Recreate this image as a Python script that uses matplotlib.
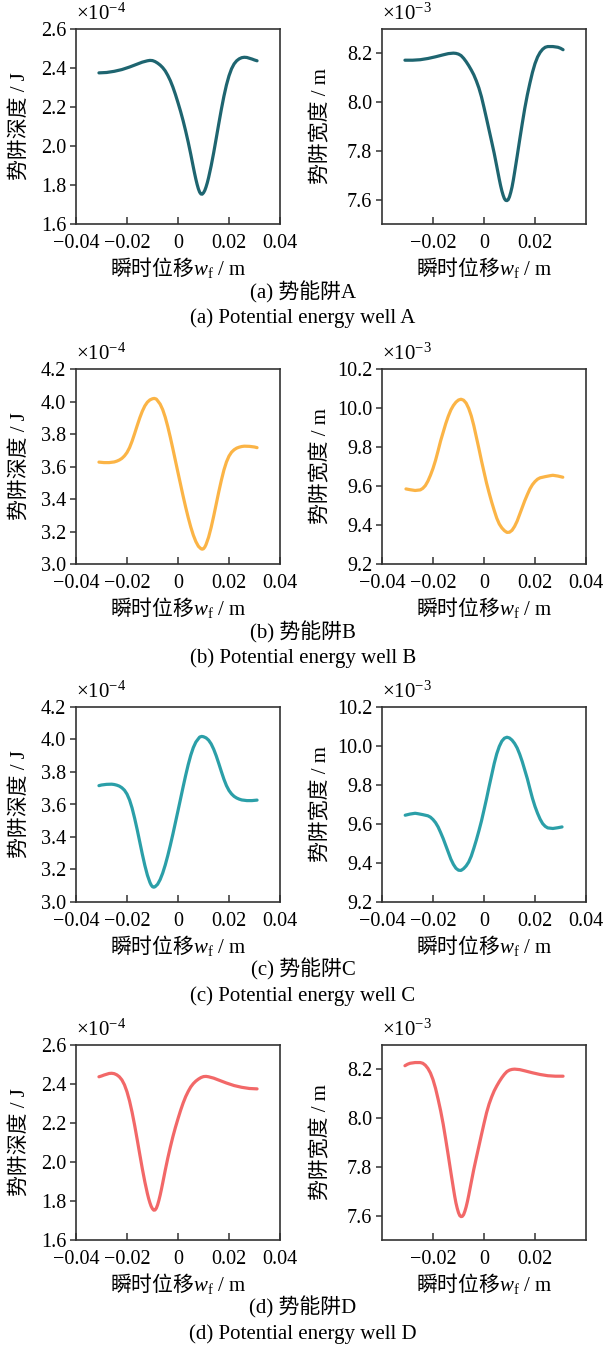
import matplotlib
matplotlib.use("Agg")
import matplotlib.pyplot as plt
from matplotlib.ticker import FuncFormatter

plt.rcParams["font.family"] = ["Liberation Serif", "Noto Sans CJK SC"]
plt.rcParams["mathtext.fontset"] = "custom"
plt.rcParams["mathtext.rm"] = "Liberation Serif"
plt.rcParams["mathtext.it"] = "Liberation Serif:italic"
plt.rcParams["mathtext.bf"] = "Liberation Serif:bold"
plt.rcParams["mathtext.sf"] = "Noto Sans CJK SC"
plt.rcParams["font.size"] = 14
plt.rcParams["axes.unicode_minus"] = True

# =========================
# DATA (depth in 1e-4 J, width in 1e-3 m, displacement w_f in m)
# =========================
# well A
a_depth_x = [-0.031, -0.028, -0.025, -0.022, -0.019, -0.016, -0.014, -0.012, -0.011, -0.010,
             -0.009, -0.008, -0.007, -0.006, -0.005, -0.004, -0.003, -0.002, -0.001, 0.000,
             0.001, 0.002, 0.003, 0.004, 0.005, 0.0055, 0.006, 0.0065, 0.007, 0.0075,
             0.008, 0.0085, 0.009, 0.0095, 0.010, 0.0105, 0.011, 0.0115, 0.012, 0.013,
             0.014, 0.015, 0.016, 0.017, 0.018, 0.019, 0.020, 0.021, 0.022, 0.023,
             0.024, 0.025, 0.026, 0.027, 0.028, 0.029, 0.030, 0.031]
a_depth_y = [2.375, 2.377, 2.383, 2.392, 2.405, 2.420, 2.430, 2.437, 2.439, 2.438,
             2.433, 2.425, 2.415, 2.402, 2.385, 2.362, 2.335, 2.302, 2.264, 2.222,
             2.178, 2.130, 2.077, 2.020, 1.958, 1.925, 1.892, 1.860, 1.830, 1.803,
             1.780, 1.763, 1.754, 1.753, 1.760, 1.772, 1.790, 1.812, 1.838, 1.898,
             1.966, 2.040, 2.115, 2.188, 2.255, 2.313, 2.360, 2.396, 2.421, 2.437,
             2.447, 2.453, 2.455, 2.454, 2.450, 2.446, 2.441, 2.437]
a_width_x = [-0.031, -0.028, -0.025, -0.022, -0.019, -0.016, -0.014, -0.012, -0.011, -0.010,
             -0.009, -0.008, -0.007, -0.006, -0.005, -0.004, -0.003, -0.002, -0.001, 0.000,
             0.001, 0.002, 0.003, 0.004, 0.005, 0.006, 0.0065, 0.007, 0.0075, 0.008,
             0.0085, 0.009, 0.0095, 0.010, 0.0105, 0.011, 0.0115, 0.012, 0.013, 0.014,
             0.015, 0.016, 0.017, 0.018, 0.019, 0.020, 0.021, 0.022, 0.023, 0.024,
             0.025, 0.027, 0.029, 0.030, 0.031]
a_width_y = [8.172, 8.172, 8.174, 8.179, 8.186, 8.194, 8.199, 8.201, 8.200, 8.197,
             8.191, 8.180, 8.166, 8.150, 8.132, 8.112, 8.087, 8.058, 8.022, 7.978,
             7.932, 7.885, 7.838, 7.790, 7.737, 7.683, 7.658, 7.636, 7.618, 7.604,
             7.597, 7.596, 7.600, 7.612, 7.630, 7.652, 7.680, 7.712, 7.778, 7.846,
             7.912, 7.975, 8.030, 8.078, 8.122, 8.158, 8.185, 8.204, 8.217, 8.225,
             8.228, 8.228, 8.225, 8.221, 8.215]

# well B
b_depth_x = [-0.031, -0.029, -0.027, -0.025, -0.024, -0.023, -0.022, -0.021, -0.020, -0.019,
             -0.018, -0.017, -0.016, -0.015, -0.014, -0.013, -0.012, -0.011, -0.010, -0.0093,
             -0.0085, -0.008, -0.007, -0.006, -0.005, -0.004, -0.003, -0.002, -0.001, 0.000,
             0.001, 0.002, 0.003, 0.004, 0.005, 0.006, 0.007, 0.008, 0.009, 0.0095,
             0.010, 0.0105, 0.011, 0.012, 0.013, 0.014, 0.015, 0.016, 0.017, 0.018,
             0.019, 0.020, 0.021, 0.022, 0.023, 0.024, 0.025, 0.026, 0.028, 0.030,
             0.031]
b_depth_y = [3.627, 3.624, 3.624, 3.628, 3.633, 3.640, 3.650, 3.665, 3.686, 3.716,
             3.756, 3.803, 3.852, 3.899, 3.940, 3.973, 3.996, 4.010, 4.017, 4.019,
             4.015, 4.005, 3.984, 3.950, 3.903, 3.845, 3.779, 3.708, 3.635, 3.562,
             3.490, 3.418, 3.350, 3.286, 3.228, 3.178, 3.138, 3.109, 3.094, 3.091,
             3.094, 3.104, 3.120, 3.165, 3.225, 3.295, 3.370, 3.445, 3.515, 3.578,
             3.628, 3.664, 3.688, 3.703, 3.713, 3.719, 3.723, 3.725, 3.724, 3.720,
             3.716]
b_width_x = [-0.0306, -0.029, -0.027, -0.025, -0.024, -0.023, -0.022, -0.021, -0.020, -0.019,
             -0.018, -0.017, -0.016, -0.015, -0.014, -0.013, -0.012, -0.011, -0.010, -0.009,
             -0.008, -0.007, -0.006, -0.005, -0.004, -0.003, -0.002, -0.001, 0.000, 0.001,
             0.002, 0.003, 0.004, 0.005, 0.006, 0.007, 0.008, 0.009, 0.010, 0.011,
             0.012, 0.013, 0.014, 0.015, 0.016, 0.017, 0.018, 0.019, 0.020, 0.021,
             0.022, 0.024, 0.026, 0.027, 0.029, 0.0309]
b_width_y = [9.585, 9.581, 9.577, 9.580, 9.588, 9.602, 9.625, 9.655, 9.690, 9.732,
             9.781, 9.832, 9.876, 9.920, 9.958, 9.990, 10.013, 10.030, 10.041, 10.045,
             10.040, 10.025, 9.998, 9.960, 9.910, 9.851, 9.792, 9.730, 9.672, 9.615,
             9.565, 9.518, 9.475, 9.435, 9.405, 9.385, 9.371, 9.362, 9.363, 9.373,
             9.393, 9.420, 9.455, 9.490, 9.525, 9.556, 9.585, 9.607, 9.623, 9.635,
             9.642, 9.648, 9.653, 9.655, 9.651, 9.645]

# well C
c_depth_x = [-0.031, -0.030, -0.028, -0.026, -0.025, -0.024, -0.023, -0.022, -0.021, -0.020,
             -0.019, -0.018, -0.017, -0.016, -0.015, -0.014, -0.013, -0.012, -0.011, -0.0105,
             -0.010, -0.0095, -0.009, -0.008, -0.007, -0.006, -0.005, -0.004, -0.003, -0.002,
             -0.001, 0.000, 0.001, 0.002, 0.003, 0.004, 0.005, 0.006, 0.007, 0.008,
             0.0085, 0.0093, 0.010, 0.011, 0.012, 0.013, 0.014, 0.015, 0.016, 0.017,
             0.018, 0.019, 0.020, 0.021, 0.022, 0.023, 0.024, 0.025, 0.027, 0.029,
             0.031]
c_depth_y = [3.716, 3.720, 3.724, 3.725, 3.723, 3.719, 3.713, 3.703, 3.688, 3.664,
             3.628, 3.578, 3.515, 3.445, 3.370, 3.295, 3.225, 3.165, 3.120, 3.104,
             3.094, 3.091, 3.094, 3.109, 3.138, 3.178, 3.228, 3.286, 3.350, 3.418,
             3.490, 3.562, 3.635, 3.708, 3.779, 3.845, 3.903, 3.950, 3.984, 4.005,
             4.015, 4.019, 4.017, 4.010, 3.996, 3.973, 3.940, 3.899, 3.852, 3.803,
             3.756, 3.716, 3.686, 3.665, 3.650, 3.640, 3.633, 3.628, 3.624, 3.624,
             3.627]
c_width_x = [-0.0309, -0.029, -0.027, -0.026, -0.024, -0.022, -0.021, -0.020, -0.019, -0.018,
             -0.017, -0.016, -0.015, -0.014, -0.013, -0.012, -0.011, -0.010, -0.009, -0.008,
             -0.007, -0.006, -0.005, -0.004, -0.003, -0.002, -0.001, 0.000, 0.001, 0.002,
             0.003, 0.004, 0.005, 0.006, 0.007, 0.008, 0.009, 0.010, 0.011, 0.012,
             0.013, 0.014, 0.015, 0.016, 0.017, 0.018, 0.019, 0.020, 0.021, 0.022,
             0.023, 0.024, 0.025, 0.027, 0.029, 0.0306]
c_width_y = [9.645, 9.651, 9.655, 9.653, 9.648, 9.642, 9.635, 9.623, 9.607, 9.585,
             9.556, 9.525, 9.490, 9.455, 9.420, 9.393, 9.373, 9.363, 9.362, 9.371,
             9.385, 9.405, 9.435, 9.475, 9.518, 9.565, 9.615, 9.672, 9.730, 9.792,
             9.851, 9.910, 9.960, 9.998, 10.025, 10.040, 10.045, 10.041, 10.030, 10.013,
             9.990, 9.958, 9.920, 9.876, 9.832, 9.781, 9.732, 9.690, 9.655, 9.625,
             9.602, 9.588, 9.580, 9.577, 9.581, 9.585]

# well D
d_depth_x = [-0.031, -0.030, -0.029, -0.028, -0.027, -0.026, -0.025, -0.024, -0.023, -0.022,
             -0.021, -0.020, -0.019, -0.018, -0.017, -0.016, -0.015, -0.014, -0.013, -0.012,
             -0.0115, -0.011, -0.0105, -0.010, -0.0095, -0.009, -0.0085, -0.008, -0.0075, -0.007,
             -0.0065, -0.006, -0.0055, -0.005, -0.004, -0.003, -0.002, -0.001, 0.000, 0.001,
             0.002, 0.003, 0.004, 0.005, 0.006, 0.007, 0.008, 0.009, 0.010, 0.011,
             0.012, 0.014, 0.016, 0.019, 0.022, 0.025, 0.028, 0.031]
d_depth_y = [2.437, 2.441, 2.446, 2.450, 2.454, 2.455, 2.453, 2.447, 2.437, 2.421,
             2.396, 2.360, 2.313, 2.255, 2.188, 2.115, 2.040, 1.966, 1.898, 1.838,
             1.812, 1.790, 1.772, 1.760, 1.753, 1.754, 1.763, 1.780, 1.803, 1.830,
             1.860, 1.892, 1.925, 1.958, 2.020, 2.077, 2.130, 2.178, 2.222, 2.264,
             2.302, 2.335, 2.362, 2.385, 2.402, 2.415, 2.425, 2.433, 2.438, 2.439,
             2.437, 2.430, 2.420, 2.405, 2.392, 2.383, 2.377, 2.375]
d_width_x = [-0.031, -0.030, -0.029, -0.027, -0.025, -0.024, -0.023, -0.022, -0.021, -0.020,
             -0.019, -0.018, -0.017, -0.016, -0.015, -0.014, -0.013, -0.012, -0.0115, -0.011,
             -0.0105, -0.010, -0.0095, -0.009, -0.0085, -0.008, -0.0075, -0.007, -0.0065, -0.006,
             -0.005, -0.004, -0.003, -0.002, -0.001, 0.000, 0.001, 0.002, 0.003, 0.004,
             0.005, 0.006, 0.007, 0.008, 0.009, 0.010, 0.011, 0.012, 0.014, 0.016,
             0.019, 0.022, 0.025, 0.028, 0.031]
d_width_y = [8.215, 8.221, 8.225, 8.228, 8.228, 8.225, 8.217, 8.204, 8.185, 8.158,
             8.122, 8.078, 8.030, 7.975, 7.912, 7.846, 7.778, 7.712, 7.680, 7.652,
             7.630, 7.612, 7.600, 7.596, 7.597, 7.604, 7.618, 7.636, 7.658, 7.683,
             7.737, 7.790, 7.838, 7.885, 7.932, 7.978, 8.022, 8.058, 8.087, 8.112,
             8.132, 8.150, 8.166, 8.180, 8.191, 8.197, 8.200, 8.201, 8.199, 8.194,
             8.186, 8.179, 8.174, 8.172, 8.172]

wells = ["A", "B", "C", "D"]
colors = ["#1e6570", "#fbb446", "#2b9fa8", "#f26868"]
depth_x = [a_depth_x, b_depth_x, c_depth_x, d_depth_x]
depth_y = [a_depth_y, b_depth_y, c_depth_y, d_depth_y]
width_x = [a_width_x, b_width_x, c_width_x, d_width_x]
width_y = [a_width_y, b_width_y, c_width_y, d_width_y]
depth_lim = [(1.6, 2.6), (3.0, 4.2), (3.0, 4.2), (1.6, 2.6)]
depth_ticks = [[1.6, 1.8, 2.0, 2.2, 2.4, 2.6], [3.0, 3.2, 3.4, 3.6, 3.8, 4.0, 4.2],
               [3.0, 3.2, 3.4, 3.6, 3.8, 4.0, 4.2], [1.6, 1.8, 2.0, 2.2, 2.4, 2.6]]
width_lim = [(7.5, 8.3), (9.2, 10.2), (9.2, 10.2), (7.5, 8.3)]
width_ticks = [[7.6, 7.8, 8.0, 8.2], [9.2, 9.4, 9.6, 9.8, 10.0, 10.2],
               [9.2, 9.4, 9.6, 9.8, 10.0, 10.2], [7.6, 7.8, 8.0, 8.2]]
depth_xticks = [-0.04, -0.02, 0, 0.02, 0.04]
width_xticks = [[-0.02, 0, 0.02], [-0.04, -0.02, 0, 0.02, 0.04],
                [-0.04, -0.02, 0, 0.02, 0.04], [-0.02, 0, 0.02]]

# layout in pixels
W, H = 606, 1353
row_top = [29, 369, 707, 1045]
caption_y = [(292, 318), (632, 658), (969, 996), (1307, 1334)]
ax_h = 195
left_x, right_x, ax_w = 76, 382, 204


def xfmt(v, pos):
    if abs(v) < 1e-12:
        return "0"
    return f"{v:.2f}".replace("-", "\u2212")


def yfmt(v, pos):
    return f"{v:.1f}"


def style_axes(ax):
    for s in ax.spines.values():
        s.set_linewidth(1.2)
        s.set_color("#333333")
    ax.tick_params(axis="x", direction="in", length=5, width=1.1, pad=7,
                   labelsize=14.5, color="#333333")
    ax.tick_params(axis="y", direction="out", length=4, width=1.1, pad=3,
                   labelsize=14.5, color="#333333")
    ax.xaxis.set_major_formatter(FuncFormatter(xfmt))
    ax.yaxis.set_major_formatter(FuncFormatter(yfmt))
    ax.set_xlim(-0.04, 0.04)


fig = plt.figure(figsize=(W / 100, H / 100), dpi=100)
xlabel = r"$\mathsf{瞬时位移}\mathit{w}_\mathrm{f}\ \mathrm{/\ m}$"

for i, well in enumerate(wells):
    top = row_top[i]
    bottom = 1 - (top + ax_h) / H
    axl = fig.add_axes([left_x / W, bottom, ax_w / W, ax_h / H])
    axr = fig.add_axes([right_x / W, bottom, ax_w / W, ax_h / H])

    axl.plot(depth_x[i], depth_y[i], color=colors[i], lw=2.3,
             solid_capstyle="round", solid_joinstyle="round")
    axr.plot(width_x[i], width_y[i], color=colors[i], lw=2.3,
             solid_capstyle="round", solid_joinstyle="round")

    for ax in (axl, axr):
        style_axes(ax)
        ax.set_xlabel(xlabel, fontsize=15)
        ax.xaxis.set_label_coords(0.5, -0.16)

    axl.set_ylim(*depth_lim[i])
    axl.set_yticks(depth_ticks[i])
    axl.set_xticks(depth_xticks)
    axr.set_ylim(*width_lim[i])
    axr.set_yticks(width_ticks[i])
    axr.set_xticks(width_xticks[i])

    axl.set_ylabel("势阱深度 / J", fontsize=15)
    axr.set_ylabel("势阱宽度 / m", fontsize=15)
    axl.yaxis.set_label_coords(-0.225, 0.5)
    axr.yaxis.set_label_coords(-0.25, 0.5)

    axl.text(0.0, 1.02, "×10$^{-4}$", transform=axl.transAxes,
             ha="left", va="bottom", fontsize=15)
    axr.text(0.0, 1.02, "×10$^{-3}$", transform=axr.transAxes,
             ha="left", va="bottom", fontsize=15)

    y1, y2 = caption_y[i]
    tag = "abcd"[i]
    fig.text(0.5, 1 - y1 / H, f"({tag}) 势能阱{well}", ha="center", va="center", fontsize=15)
    fig.text(0.5, 1 - y2 / H, f"({tag}) Potential energy well {well}",
             ha="center", va="center", fontsize=15)

fig.savefig("out.png", dpi=100)
